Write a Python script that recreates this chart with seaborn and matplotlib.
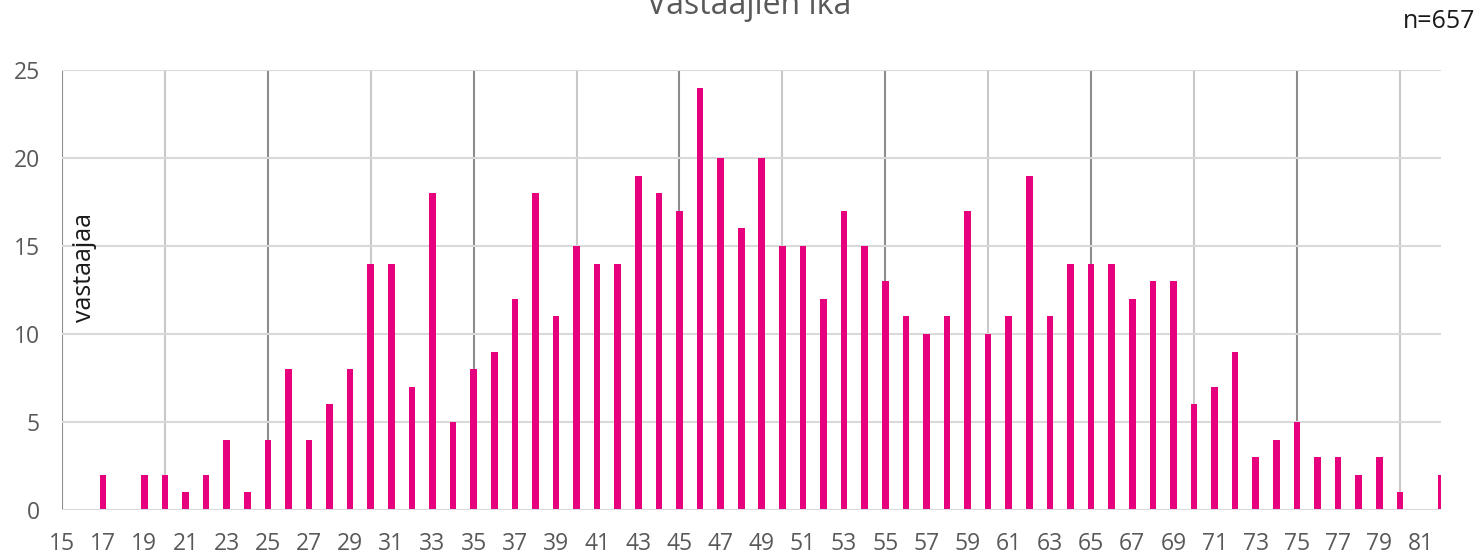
import numpy as np
import pandas as pd
import seaborn as sns
import matplotlib.pyplot as plt

ages = list(range(15, 83))
counts = [0, 0, 2, 0, 2, 2, 1, 2, 4, 1,
          4, 8, 4, 6, 8, 14, 14, 7, 18, 5,
          8, 9, 12, 18, 11, 15, 14, 14, 19, 18,
          17, 24, 20, 16, 20, 15, 15, 12, 17, 15,
          13, 11, 10, 11, 17, 10, 11, 19, 11, 14,
          14, 14, 12, 13, 13, 6, 7, 9, 3, 4,
          5, 3, 3, 2, 3, 1, 0, 2]
title = 'Vastaajien ikä'
n_label = 'n=657'
y_label = 'vastaajaa'

df = pd.DataFrame({'ika': ages, 'vastaajaa': counts})

sns.set_theme(style='white')
plt.rcParams['font.family'] = ['Open Sans', 'DejaVu Sans']

W, H = 1483, 554
fig = plt.figure(figsize=(W / 100, H / 100), dpi=100)
ax = fig.add_axes([62 / W, 1 - 510 / H, (1441 - 62) / W, (510 - 70) / H])

# gridlines every 5 years, darker every 10
for x in range(15, 81, 5):
    col = '#8c8c8c' if (x - 15) % 10 == 0 else '#c8c8c8'
    ax.axvline(x, color=col, lw=1.5, zorder=0)
for y in range(5, 26, 5):
    ax.axhline(y, color='#d9d9d9', lw=1.5, zorder=0)
ax.axhline(0, color='#d9d9d9', lw=1.5, zorder=3)

sns.barplot(data=df, x='ika', y='vastaajaa', native_scale=True, width=0.32,
            color='#E6007E', saturation=1, ax=ax, zorder=2, linewidth=0)

ax.set_xlim(15, 82)
ax.set_ylim(0, 25)
ax.set_xticks(range(15, 82, 2))
ax.set_yticks(range(0, 26, 5))
ax.tick_params(axis='both', length=0, labelsize=16.5, labelcolor='#595959')
ax.tick_params(axis='x', pad=16)
ax.tick_params(axis='y', pad=16)
ax.set_xlabel('')
ax.set_ylabel('')
for s in ax.spines.values():
    s.set_visible(False)

ax.text(0.007, 0.55, y_label, transform=ax.transAxes, rotation=90,
        ha='left', va='center', fontsize=18, color='#1a1a1a')
fig.text(749 / W, 1 - 14 / H, title, ha='center', va='baseline',
         fontsize=23, color='#595959')
fig.text(1475 / W, 1 - 22 / H, n_label, ha='right', va='center',
         fontsize=18, color='#1a1a1a')

fig.savefig('out.png', dpi=100)
